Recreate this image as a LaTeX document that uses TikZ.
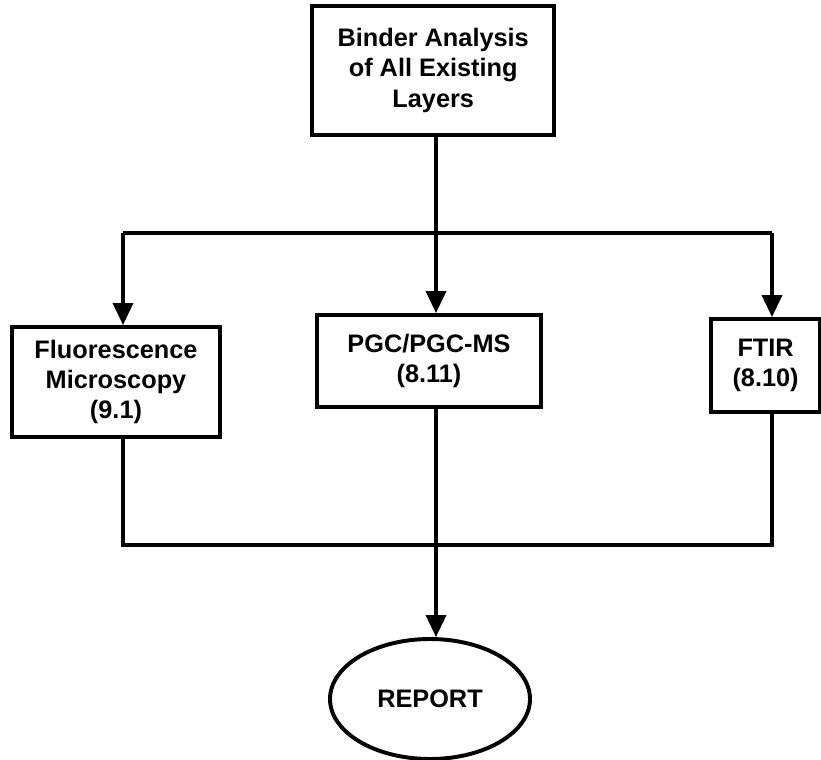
\documentclass[tikz,border=0pt]{standalone}
\usepackage{fontspec}
\setmainfont{Liberation Sans}
\usetikzlibrary{shapes.geometric,arrows.meta}

\begin{document}
\begin{tikzpicture}[stage/.style={rectangle,draw,line width=2.8pt,inner sep=0pt,align=center,
		font=\fontsize{18}{21.5}\selectfont\bfseries},
	feed/.style={line width=2.6pt,-{Triangle[length=0.55cm,width=0.5cm]}},
	wire/.style={line width=2.6pt}]
\useasboundingbox (0,0) rectangle (20.525,-19);
\node[stage,minimum width=6.05cm,minimum height=3.23cm] (top) at (10.83,-1.76) {Binder Analysis\\of All Existing\\Layers};
\node[stage,minimum width=5.2cm,minimum height=2.75cm] (fluor) at (2.9,-9.55) {Fluorescence\\Microscopy\\(9.1)};
\node[stage,minimum width=5.6cm,minimum height=2.3cm] (pgc) at (10.725,-9.025) {PGC/PGC-MS\\(8.11)};
\node[stage,minimum width=2.73cm,minimum height=2.33cm] (ftir) at (19.14,-9.14) {FTIR\\(8.10)};
\node[stage,ellipse,minimum width=5cm,minimum height=3cm] (report) at (10.75,-17.475) {REPORT};
\coordinate (busL) at (3.075,-5.825);
\coordinate (busM) at (10.9,-5.825);
\coordinate (busR) at (19.3,-5.825);
\coordinate (joinL) at (3.075,-13.625);
\coordinate (joinM) at (10.9,-13.625);
\coordinate (joinR) at (19.3,-13.625);
% fan out to the three methods
\draw[wire] (top.south -| busM) -- (busM);
\draw[wire] (busL) -- (busR);
\draw[feed] (busL) -- (busL |- fluor.north);
\draw[feed] (busM) -- (busM |- pgc.north);
\draw[feed] (busR) -- (busR |- ftir.north);
% gather into the report
\draw[wire] (joinL |- fluor.south) -- (joinL) -- (joinR) -- (joinR |- ftir.south);
\draw[feed] (joinM |- pgc.south) -- (joinM |- report.north);
\end{tikzpicture}
\end{document}
